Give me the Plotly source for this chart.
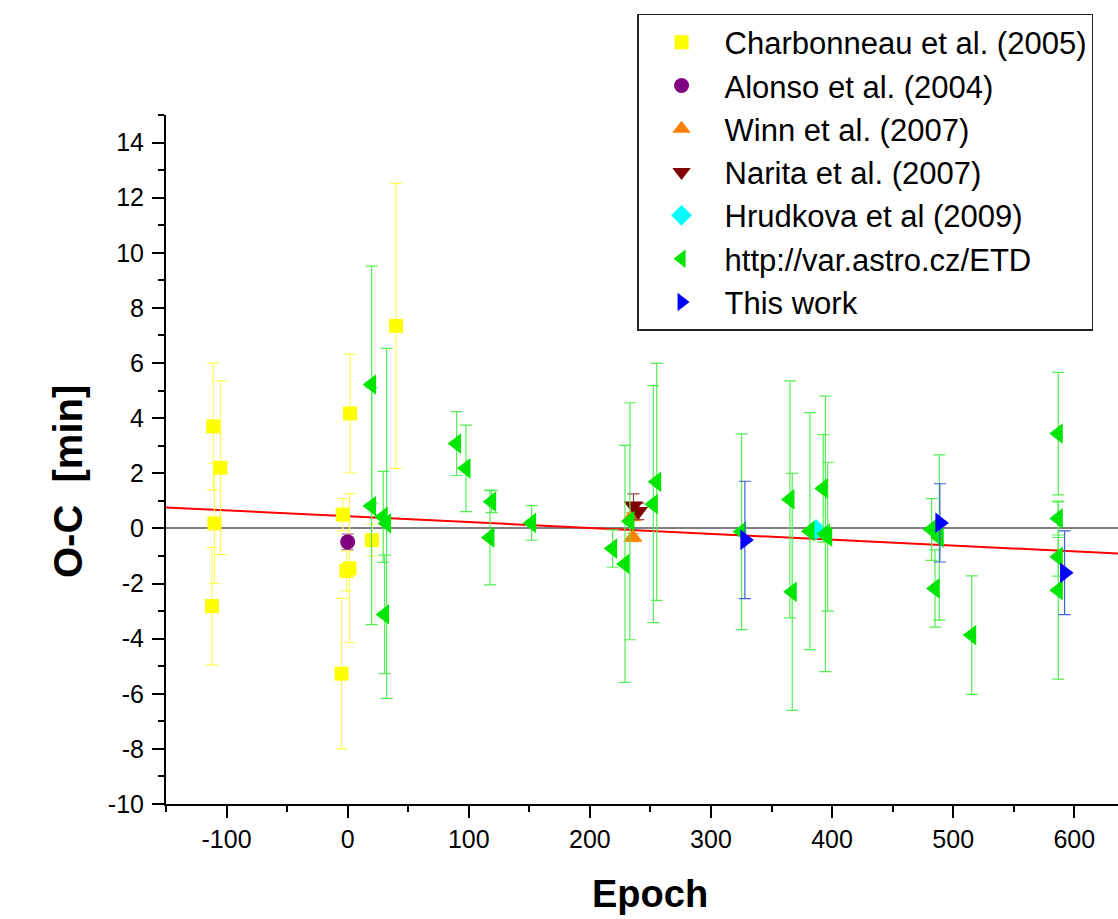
import plotly.graph_objects as go

# ---------------- data ----------------
charb_x = [-111, -105, -110, -112, 2, -4, -1, 1.5, -5, 20, 40]
charb_y = [3.7, 2.2, 0.18, -2.82, 4.17, 0.5, -1.55, -1.45, -5.27, -0.43, 7.35]
charb_e = [2.3, 3.15, 2.18, 2.13, 2.15, 0.58, 0.72, 2.7, 2.73, 0.58, 5.17]

alonso_x = [0]
alonso_y = [-0.49]
alonso_e = [0.28]

winn_x = [234.5, 235.5]
winn_y = [0.42, -0.33]
winn_e = [0.15, 0.15]

narita_x = [236, 240]
narita_y = [0.82, 0.62]
narita_e = [0.43, 0.3]

hrud_x = [386.7]
hrud_y = [-0.04]
hrud_e = [0.2]

etd_x = [19.8, 19.8, 29.4, 32.2, 30.5, 90, 97.7, 118.9, 117.5, 151.9,
         218.8, 229, 233.1, 255.2, 252.4, 325.3, 365.2, 367.1, 381.7, 392.7,
         396.4, 394.5, 482.2, 488.5, 485, 515.3, 586.8, 586.8, 586.8, 586.8]
etd_y = [5.22, 0.81, 0.42, 0.18, -3.12, 3.08, 2.18, 0.97, -0.33, 0.2,
         -0.73, -1.29, 0.26, 1.69, 0.88, -0.12, 1.05, -2.3, -0.1, 1.45,
         -0.3, -0.2, -0.04, -0.33, -2.18, -3.87, 3.44, 0.36, -1.03, -2.24]
etd_e = [4.3, 4.3, 1.65, 6.35, 2.15, 1.16, 1.57, 0.4, 1.72, 0.63,
         0.68, 4.3, 4.3, 4.3, 4.3, 3.55, 4.3, 4.3, 4.3, 1.95,
         2.7, 5.0, 1.12, 3.0, 1.4, 2.15, 2.22, 0.6, 0.7, 3.23]

this_x = [328, 489, 592]
this_y = [-0.42, 0.2, -1.61]
this_e = [2.13, 1.42, 1.52]

fit_x = [-150, 640]
fit_y = [0.76, -0.92]

x_tickvals = [-100, 0, 100, 200, 300, 400, 500, 600]
x_ticktext = ["-100", "0", "100", "200", "300", "400", "500", "600"]
y_tickvals = [-10, -8, -6, -4, -2, 0, 2, 4, 6, 8, 10, 12, 14]
y_ticktext = ["-10", "-8", "-6", "-4", "-2", "0", "2", "4", "6", "8", "10", "12", "14"]

x_title = "Epoch"
y_title = "O-C\u00a0 [min]"

# ---------------- figure ----------------
FONT = "Liberation Sans, Arial, sans-serif"
fig = go.Figure()

def add(name, x, y, e, symbol, color, ecolor, size):
    fig.add_trace(go.Scatter(
        x=x, y=y, mode="markers", name=name,
        marker=dict(symbol=symbol, color=color, size=size, line=dict(width=0)),
        error_y=dict(type="data", array=e, visible=True, color=ecolor,
                     thickness=1.2, width=6),
    ))

fig.add_trace(go.Scatter(x=fit_x, y=fit_y, mode="lines", showlegend=False,
                         line=dict(color="#ff0000", width=2), hoverinfo="skip"))

add("Charbonneau et al. (2005)", charb_x, charb_y, charb_e, "square", "#ffff00", "#ffff55", 14)
add("Alonso et al. (2004)", alonso_x, alonso_y, alonso_e, "circle", "#800080", "#b07090", 15)
add("Winn et al. (2007)", winn_x, winn_y, winn_e, "triangle-up", "#ff8000", "#ffb060", 17)
add("Narita et al. (2007)", narita_x, narita_y, narita_e, "triangle-down", "#800000", "#a04040", 17)
add("Hrudkova et al (2009)", hrud_x, hrud_y, hrud_e, "diamond", "#00ffff", "#60ffff", 16)
add("http://var.astro.cz/ETD", etd_x, etd_y, etd_e, "triangle-left", "#00e600", "#55ee55", 18)
add("This work", this_x, this_y, this_e, "triangle-right", "#0000ff", "#4060e0", 18)

fig.update_layout(
    width=1118, height=919,
    margin=dict(l=166, r=0, t=115, b=115),
    paper_bgcolor="white", plot_bgcolor="white",
    font=dict(family=FONT, color="black", size=25),
    showlegend=True,
    legend=dict(
        x=0.4948, y=1.1466, xanchor="left", yanchor="top",
        bgcolor="white", bordercolor="#222222", borderwidth=1.5,
        font=dict(family=FONT, size=31, color="black"),
        itemwidth=76, tracegroupgap=0,
    ),
    xaxis=dict(
        range=[-150, 636.1], showgrid=False, zeroline=False,
        showline=True, linecolor="black", linewidth=2, mirror=False,
        ticks="outside", ticklen=12, tickwidth=2, tickcolor="black",
        tickmode="array", tickvals=x_tickvals, ticktext=x_ticktext,
        minor=dict(ticks="outside", ticklen=6, tickwidth=2, tickcolor="black",
                   tickmode="linear", tick0=-150, dtick=50),
        tickfont=dict(size=25, family=FONT),
    ),
    yaxis=dict(
        range=[-10, 15], showgrid=False,
        zeroline=True, zerolinecolor="#808080", zerolinewidth=2,
        showline=True, linecolor="black", linewidth=2, mirror=False,
        ticks="outside", ticklen=12, tickwidth=2, tickcolor="black",
        tickmode="array", tickvals=y_tickvals, ticktext=y_ticktext,
        minor=dict(ticks="outside", ticklen=6, tickwidth=2, tickcolor="black",
                   tickmode="linear", tick0=-10, dtick=1),
        tickfont=dict(size=25, family=FONT),
        ticklabelstandoff=3,
    ),
    annotations=[
        dict(text="<b>" + x_title + "</b>", xref="paper", yref="paper",
             x=(650 - 166) / 952, y=-(894 - 804) / 689, xanchor="center", yanchor="middle",
             showarrow=False, font=dict(size=38, family=FONT)),
        dict(text="<b>" + y_title + "</b>", xref="paper", yref="paper",
             x=-(166 - 68) / 952, y=(804 - 482) / 689, xanchor="center", yanchor="middle",
             textangle=-90, showarrow=False, font=dict(size=40, family=FONT)),
    ],
)

fig.write_html("out.html")
